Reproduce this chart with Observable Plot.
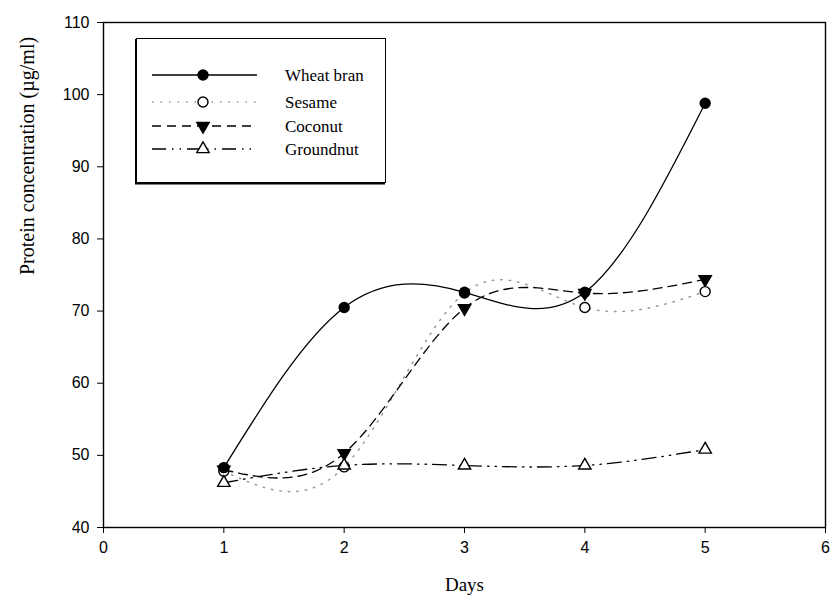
<!DOCTYPE html>
<html>
<head>
<meta charset="utf-8">
<script src="https://cdn.jsdelivr.net/npm/d3@7"></script>
<script src="https://cdn.jsdelivr.net/npm/@observablehq/plot@0.6"></script>
<style>
  html, body { margin: 0; padding: 0; background: #fff; }
  #wrap { position: relative; width: 835px; height: 607px; }
  #legend { position: absolute; left: 135px; top: 38px; }
</style>
</head>
<body>
<div id="wrap"><div id="chart"></div><svg id="legend" width="252" height="148"></svg></div>
<script>
// ---- data ----
const days = [1, 2, 3, 4, 5];
const seriesNames = ["Wheat bran", "Sesame", "Coconut", "Groundnut"];
const wheatBran = [48.3, 70.5, 72.6, 72.6, 98.8];
const sesame    = [47.8, 48.4, 72.5, 70.5, 72.7];
const coconut   = [48.0, 50.3, 70.4, 72.5, 74.4];
const groundnut = [46.2, 48.6, 48.6, 48.6, 50.8];
const xTicks = [0, 1, 2, 3, 4, 5, 6];
const yTicks = [40, 50, 60, 70, 80, 90, 100, 110];
const xLabel = "Days";
const yLabel = "Protein concentration (\u00b5g/ml)";

// ---- styling per series ----
const triangleDown = {
  draw(context, size) {
    const y = -Math.sqrt(size / (Math.sqrt(3) * 3));
    context.moveTo(0, -y * 2);
    context.lineTo(-Math.sqrt(3) * y, y);
    context.lineTo(Math.sqrt(3) * y, y);
    context.closePath();
  }
};
const styles = [
  {values: wheatBran, symbol: "circle", r: 5, fill: "black", stroke: "black", line: "black", dash: null, lw: 1.3},
  {values: sesame, symbol: "circle", r: 5, fill: "white", stroke: "black", line: "#999", dash: "1.5,7", lw: 1.5},
  {values: coconut, symbol: triangleDown, r: 4.6, fill: "black", stroke: "black", line: "black", dash: "9,6", lw: 1.3},
  {values: groundnut, symbol: "triangle", r: 4.6, fill: "white", stroke: "black", line: "black", dash: "14,6,1.5,6,1.5,6", lw: 1.3}
];

const serif = "'Liberation Serif', 'Times New Roman', serif";
const marks = [Plot.frame({stroke: "black", strokeWidth: 1.4})];
styles.forEach((s, i) => {
  const data = days.map((d, j) => ({day: d, value: s.values[j]}));
  marks.push(Plot.line(data, {x: "day", y: "value", curve: "natural", stroke: s.line, strokeWidth: s.lw, strokeDasharray: s.dash}));
});
[2, 1, 3, 0].forEach(i => {
  const s = styles[i];
  const data = days.map((d, j) => ({day: d, value: s.values[j]}));
  marks.push(Plot.dot(data, {x: "day", y: "value", symbol: s.symbol, r: s.r, fill: s.fill, stroke: s.stroke, strokeWidth: 1.4}));
});
marks.push(
  Plot.axisX({ticks: xTicks, tickFormat: d3.format("d"), tickSize: 6, tickPadding: 8, label: null, fontSize: 16}),
  Plot.axisY({ticks: yTicks, tickFormat: d3.format("d"), tickSize: 6, tickPadding: 8, label: null, fontSize: 16}),
  Plot.text([xLabel], {frameAnchor: "bottom", dy: 63, text: d => d, fontFamily: serif, fontSize: 19}),
  Plot.text([yLabel], {frameAnchor: "left", dx: -76, rotate: -90, text: d => d, fontFamily: serif, fontSize: 20})
);

const chart = Plot.plot({
  width: 835, height: 607,
  marginLeft: 103, marginRight: 10, marginTop: 22, marginBottom: 80,
  style: {fontFamily: "'Liberation Sans', Arial, sans-serif", fontSize: "16px", color: "black", background: "white"},
  x: {domain: [0, 6]},
  y: {domain: [40, 110]},
  marks
});
document.getElementById("chart").appendChild(chart);

// ---- legend ----
const lg = d3.select("#legend");
lg.append("rect").attr("x", 1.5).attr("y", 0.5).attr("width", 249).attr("height", 144)
  .attr("fill", "white").attr("stroke", "black").attr("stroke-width", 1);
lg.append("line").attr("x1", 1).attr("x2", 1).attr("y1", 1).attr("y2", 146).attr("stroke", "black").attr("stroke-width", 2);
lg.append("line").attr("x1", 0).attr("x2", 250).attr("y1", 145.5).attr("y2", 145.5).attr("stroke", "black").attr("stroke-width", 2);
const rowY = [37, 64, 88, 111];
styles.forEach((s, i) => {
  const y = rowY[i];
  lg.append("line").attr("x1", 17).attr("x2", 122).attr("y1", y).attr("y2", y)
    .attr("stroke", s.line).attr("stroke-width", s.lw).attr("stroke-dasharray", s.dash);
  const type = s.symbol === "circle" ? d3.symbolCircle : s.symbol === "triangle" ? d3.symbolTriangle : triangleDown;
  lg.append("path").attr("transform", `translate(68,${y})`)
    .attr("d", d3.symbol(type, Math.PI * s.r * s.r)())
    .attr("fill", s.fill).attr("stroke", s.stroke).attr("stroke-width", 1.4);
  lg.append("text").attr("x", 150).attr("y", y).attr("dy", "0.35em")
    .attr("font-family", serif).attr("font-size", 17).text(seriesNames[i]);
});
</script>
</body>
</html>
